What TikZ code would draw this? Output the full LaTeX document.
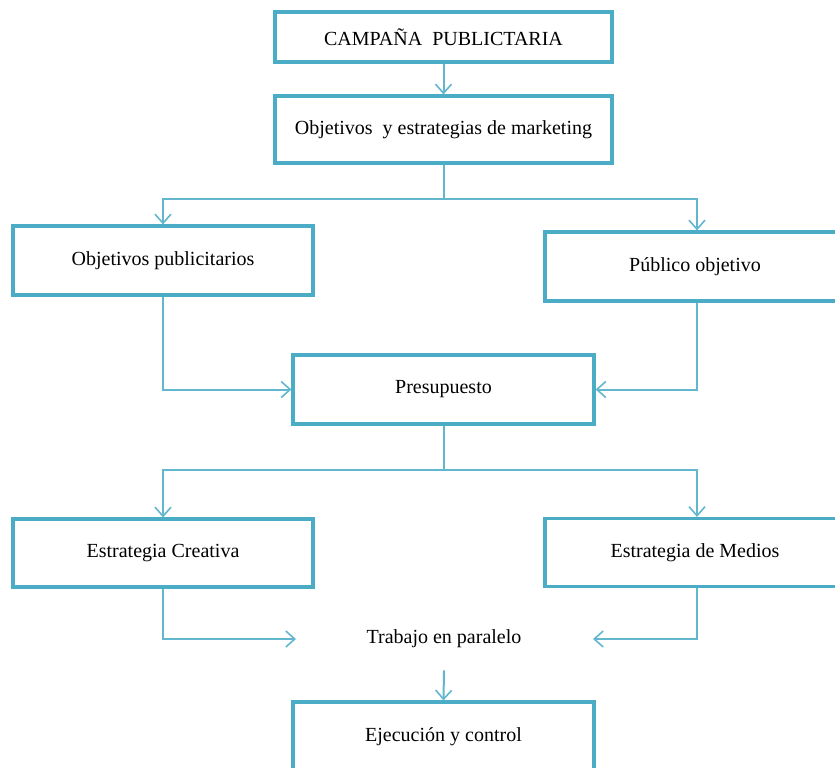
\documentclass[tikz,border=0pt]{standalone}
\usepackage{fontspec}
\setmainfont{Liberation Serif}
\usetikzlibrary{arrows.meta}
\definecolor{BoxTeal}{HTML}{4BACC6}
\definecolor{LinkTeal}{HTML}{62B7CF}

\begin{document}
\begin{tikzpicture}[x=1pt,y=-1pt,
  box/.style={rectangle,draw=BoxTeal,fill=white,line width=3.2pt,align=center,inner sep=0pt,font=\fontsize{20}{24}\selectfont},
  label/.style={inner sep=0pt,font=\fontsize{20}{24}\selectfont},
  link/.style={draw=LinkTeal,line width=2pt},
  arrow/.style={link,-{Straight Barb[length=9pt,width=16pt,line width=1.6pt]}}
]
\useasboundingbox (0,0) rectangle (835,768);
\node[box,minimum width=337pt,minimum height=50pt] (campaign) at (443.5,37) {CAMPAÑA\ \ PUBLICTARIA};
\node[box,minimum width=337pt,minimum height=67pt] (marketing) at (443.5,129.5) {Objetivos\ \ y estrategias de marketing};
\node[box,minimum width=300pt,minimum height=69pt] (adgoals) at (163,260.5) {Objetivos publicitarios};
\node[box,minimum width=300pt,minimum height=69pt] (audience) at (695,266.5) {Público objetivo};
\node[box,minimum width=301pt,minimum height=69pt] (budget) at (443.5,389.5) {Presupuesto};
\node[box,minimum width=300pt,minimum height=68pt] (creative) at (163,553) {Estrategia Creativa};
\node[box,minimum width=300pt,minimum height=68pt] (media) at (695,552.5) {Estrategia de Medios};
\node[label] (parallel) at (444,639) {Trabajo en paralelo};
\node[box,minimum width=301pt,minimum height=69pt] (execution) at (443.5,736.5) {Ejecución y control};
\coordinate (creativeend) at (296,639);
\coordinate (mediaend) at (593,639);
% top of the tree
\draw[arrow] (campaign) -- (marketing);
\draw[link] (marketing.south) -- (443.5,199);
\draw[arrow] (443.5,199) -| (adgoals.north);
\draw[arrow] (443.5,199) -| ([xshift=2pt]audience.north);
% into the budget
\draw[arrow] (adgoals.south) |- (budget.west);
\draw[arrow] ([xshift=2pt]audience.south) |- (budget.east);
% budget split
\draw[link] (budget.south) -- (443.5,470);
\draw[arrow] (443.5,470) -| (creative.north);
\draw[arrow] (443.5,470) -| ([xshift=2pt]media.north);
% parallel work
\draw[arrow] (creative.south) |- (creativeend);
\draw[arrow] ([xshift=2pt]media.south) |- (mediaend);
\draw[arrow] ([yshift=-22pt]parallel.south) -- (execution.north);
\end{tikzpicture}
\end{document}
